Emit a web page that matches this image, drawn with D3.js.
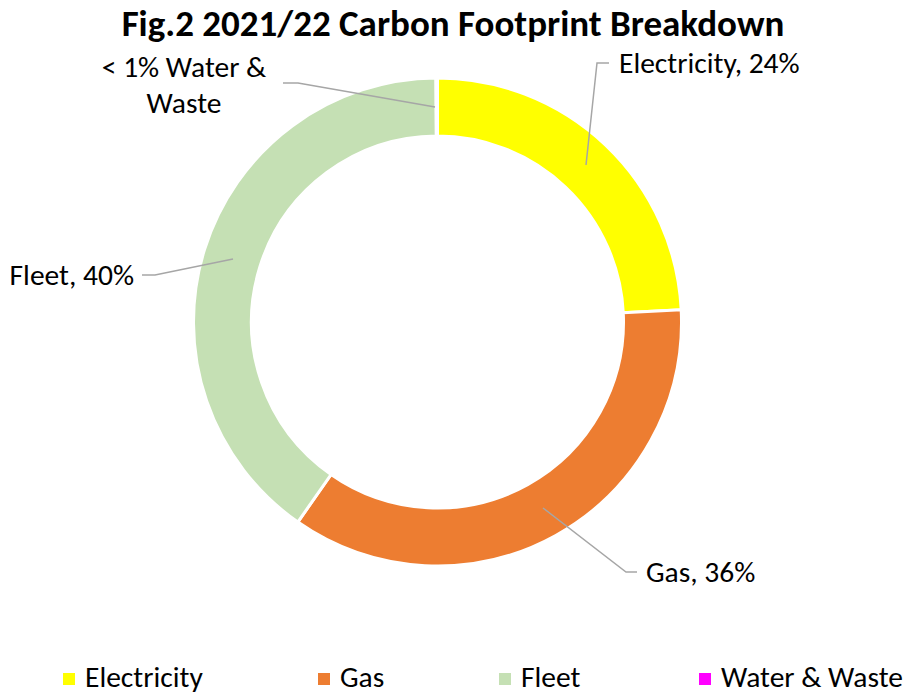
<!DOCTYPE html>
<html>
<head>
<meta charset="utf-8">
<script src="https://cdn.jsdelivr.net/npm/d3@7"></script>
<style>
  body { margin: 0; background: #fff; }
  text { font-family: Carlito, "Open Sans", "Noto Sans", sans-serif; fill: #000; }
</style>
</head>
<body>
<svg width="905" height="695"></svg>
<script>
var categories = ["Electricity", "Gas", "Fleet", "Water & Waste"]
var values = [24.2, 35.5, 40.2, 0.1]
var colors = ["#ffff00", "#ed7d31", "#c5e0b4", "#ff00ff"]
var labels = [["Electricity, 24%"], ["Gas, 36%"], ["Fleet, 40%"], ["< 1% Water &", "Waste"]]

var width = 905
var height = 695
var cx = 437.5, cy = 322
var outerR = 244, innerR = 186

var svg = d3.select("svg")

// title
svg.append("text")
  .attr("x", 453)
  .attr("y", 36)
  .attr("text-anchor", "middle")
  .style("font-size", "37px")
  .style("font-weight", "bold")
  .text("Fig.2 2021/22 Carbon Footprint Breakdown")

var data = categories.map((c, i) => ({name: c, value: values[i], color: colors[i], label: labels[i]}))

var pie = d3.pie().sort(null).value(d => d.value)
var arc = d3.arc().innerRadius(innerR).outerRadius(outerR)
var arcs = pie(data)

var g = svg.append("g").attr("transform", `translate(${cx},${cy})`)

g.selectAll("path.slice")
  .data(arcs)
  .enter().append("path")
  .attr("class", "slice")
  .attr("d", arc)
  .style("fill", d => d.data.color)
  .style("stroke", "#fff")
  .style("stroke-width", 3)

// leader lines + labels (relative to chart centre)
var labelPos = [
  {start: [148.5, -157], bend: [159.5, -259], end: [171.5, -259], tx: 181.5, ty: -249, anchor: "start"},
  {start: [105.5, 186], bend: [188.5, 250], end: [199.5, 250], tx: 208.5, ty: 260, anchor: "start"},
  {start: [-204.5, -63], bend: [-282.5, -47], end: [-295.5, -47], tx: -303.5, ty: -37, anchor: "end"},
  {start: [-2.5, -215], bend: [-139.5, -239], end: [-154.5, -239], tx: -253.5, ty: -245, anchor: "middle"}
]

arcs.forEach((a, i) => {
  var p = labelPos[i]
  g.append("polyline")
    .attr("points", [p.start, p.bend, p.end].map(q => q.join(",")).join(" "))
    .style("fill", "none")
    .style("stroke", "#a6a6a6")
    .style("stroke-width", 1.5)
  var t = g.append("text")
    .attr("x", p.tx)
    .attr("y", p.ty)
    .attr("text-anchor", p.anchor)
    .style("font-size", "29.5px")
  a.data.label.forEach((line, j) => {
    t.append("tspan").attr("x", p.tx).attr("dy", j === 0 ? 0 : 36).text(line)
  })
})

// legend
var legendX = d3.scaleOrdinal().domain(categories).range([63, 318, 499, 699])
var legend = svg.selectAll(".legend")
  .data(data)
  .enter().append("g")
  .attr("class", "legend")
  .attr("transform", d => `translate(${legendX(d.name)},673)`)

legend.append("rect")
  .attr("width", 12)
  .attr("height", 12)
  .style("fill", d => d.color)

legend.append("text")
  .attr("x", 22)
  .attr("y", 14)
  .style("font-size", "29.5px")
  .text(d => d.name)
</script>
</body>
</html>
